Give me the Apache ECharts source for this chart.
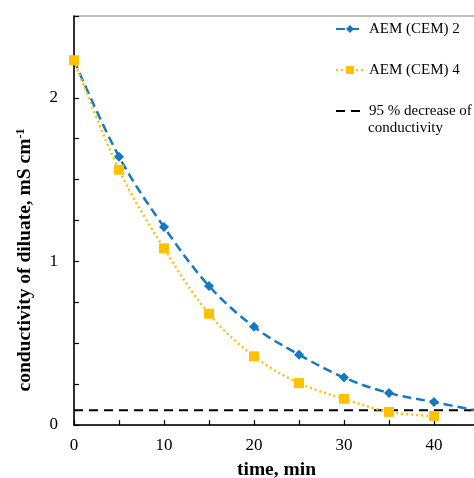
<!DOCTYPE html>
<html><head><meta charset="utf-8">
<script src="https://cdn.jsdelivr.net/npm/echarts@6/dist/echarts.min.js"></script>
<style>html,body{margin:0;padding:0;background:#fff}#c{width:474px;height:478px}</style>
</head><body><div id="c"></div>
<script>
var timeMin = [0, 5, 10, 15, 20, 25, 30, 35, 40, 45];
var aem2 = [2.23, 1.64, 1.21, 0.85, 0.60, 0.43, 0.29, 0.195, 0.14, 0.085];
var aem4 = [2.23, 1.56, 1.08, 0.68, 0.42, 0.256, 0.16, 0.08, 0.055];
var threshold = 0.09;
var thresholdX = [0, 50];
var seriesNames = ['AEM (CEM) 2', 'AEM (CEM) 4', '95 % decrease of'];

function pairs(xs, ys){ return ys.map(function(v,i){ return [xs[i], v]; }); }

var FONT = 'Liberation Serif';
var chart = echarts.init(document.getElementById('c'), null, {renderer:'canvas'});
chart.setOption({
  animation: false,
  backgroundColor: '#fff',
  grid: {left: 74, top: 16, width: 405, height: 409, show: true, borderColor: '#808080', borderWidth: 1,
    containLabel: false, outerBoundsMode: 'none'},
  xAxis: {
    type: 'value', min: 0, max: 45, interval: 5,
    name: 'time, min', nameLocation: 'middle', nameGap: 35,
    nameTextStyle: {fontFamily: FONT, fontSize: 19.5, fontWeight: 'bold', color: '#000'},
    axisLine: {show: true, onZero: false, lineStyle: {color: '#000', width: 1.5}},
    axisTick: {show: true, inside: true, length: 5, lineStyle: {color: '#000', width: 1.2}},
    axisLabel: {fontFamily: FONT, fontSize: 17, color: '#000', margin: 12,
      formatter: function(v){ return (v % 10 === 0) ? String(v) : ''; }},
    splitLine: {show: false}
  },
  yAxis: {
    type: 'value', min: 0, max: 2.5, interval: 0.25,
    axisLine: {show: true, onZero: false, lineStyle: {color: '#000', width: 1.5}},
    axisTick: {show: true, inside: true, length: 5, lineStyle: {color: '#000', width: 1.2}},
    axisLabel: {fontFamily: FONT, fontSize: 17, color: '#000', margin: 16,
      formatter: function(v){ return (Math.abs(v - Math.round(v)) < 1e-9) ? String(Math.round(v)) : ''; }},
    splitLine: {show: false}
  },
  legend: {
    orient: 'vertical', left: 335, top: 20, itemGap: 23, itemWidth: 28, itemHeight: 10, padding: 0,
    textStyle: {fontFamily: FONT, fontSize: 15, color: '#000', lineHeight: 18},
    data: [
      {name: seriesNames[0]},
      {name: seriesNames[1]},
      {name: seriesNames[2], itemStyle: {opacity: 0}}
    ]
  },
  series: [
    {
      name: seriesNames[0], type: 'line', data: pairs(timeMin, aem2), smooth: 0.35,
      symbol: 'diamond', symbolSize: 10,
      lineStyle: {color: '#1478C3', width: 2.5, type: [9, 5]},
      itemStyle: {color: '#1478C3'}, z: 3
    },
    {
      name: seriesNames[1], type: 'line', data: pairs(timeMin, aem4), smooth: 0.35,
      symbol: 'rect', symbolSize: 10,
      lineStyle: {color: '#FFC000', width: 2.5, type: [2, 3]},
      itemStyle: {color: '#FFC000'}, z: 4
    },
    {
      name: seriesNames[2], type: 'line', data: thresholdX.map(function(x){ return [x, threshold]; }),
      symbol: 'none', showSymbol: false,
      lineStyle: {color: '#000', width: 2, type: [9, 6]},
      itemStyle: {color: '#000'}, z: 2
    }
  ],
  graphic: [
    {type: 'text', left: 368, top: 121, style: {text: 'conductivity', fontFamily: FONT, fontSize: 15, fill: '#000'}},
    {type: 'text', x: 25, y: 260, rotation: Math.PI/2,
      style: {text: 'conductivity of diluate, mS cm{sup|-1}', fontFamily: FONT, fontSize: 19.5, fontWeight: 'bold', fill: '#000',
        align: 'center', verticalAlign: 'middle',
        rich: {sup: {fontFamily: FONT, fontSize: 12, fontWeight: 'bold', verticalAlign: 'top', padding: [0,0,9,0]}}}}
  ]
});
</script></body></html>
